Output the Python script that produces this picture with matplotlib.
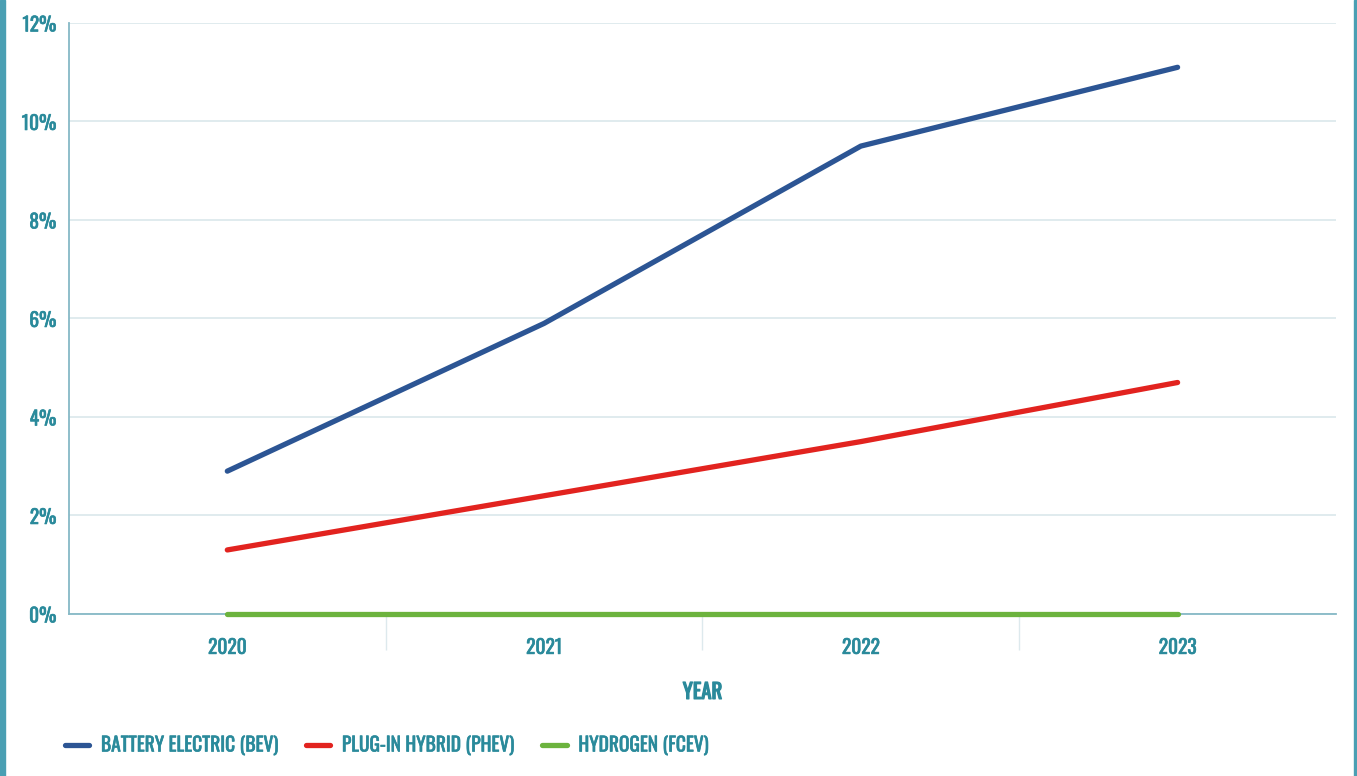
import matplotlib
matplotlib.use('Agg')
import matplotlib.pyplot as plt
import matplotlib.patheffects as pe
from matplotlib.patches import Rectangle
from matplotlib.ticker import FixedLocator, FuncFormatter

years = ['2020', '2021', '2022', '2023']
bev = [2.9, 5.9, 9.5, 11.1]
phev = [1.3, 2.4, 3.5, 4.7]
fcev = [0.0, 0.0, 0.0, 0.0]
series_names = ['BATTERY ELECTRIC (BEV)', 'PLUG-IN HYBRID (PHEV)', 'HYDROGEN (FCEV)']
y_ticks = [0, 2, 4, 6, 8, 10, 12]

TEAL = '#2a8a9b'
GRID = '#dde9ed'
SPINE = '#86b9c6'
COLORS = ['#2c5594', '#e2231f', '#6cb33e']

plt.rcParams['font.family'] = ['Oswald', 'Barlow Condensed', 'DejaVu Sans']

fig = plt.figure(figsize=(13.57, 7.76), dpi=100)
ax = fig.add_axes([0.0508, 0.2088, 0.9337, 0.7616])

x = list(range(len(years)))
for vals, name, color in zip([bev, phev, fcev], series_names, COLORS):
    ax.plot(x, vals, color=color, linewidth=3.8, label=name, clip_on=False,
            solid_capstyle='round', solid_joinstyle='round', zorder=3)

ax.set_xlim(-0.5, len(years) - 0.5)
ax.set_ylim(0, 12)
ax.set_xticks(x)
ax.set_xticklabels(years)
ax.xaxis.set_minor_locator(FixedLocator([i + 0.5 for i in range(len(years) - 1)]))
ax.set_yticks(y_ticks)
ax.yaxis.set_major_formatter(FuncFormatter(lambda v, _: f'{v:.0f}%'))

ax.grid(axis='y', color=GRID, linewidth=1.3, zorder=0)
for side in ['top', 'right']:
    ax.spines[side].set_visible(False)
for side in ['left', 'bottom']:
    ax.spines[side].set_color(SPINE)
    ax.spines[side].set_linewidth(1.3)

ax.tick_params(axis='x', which='major', length=0, pad=16.5, labelsize=14, labelcolor=TEAL)
ax.tick_params(axis='x', which='minor', length=26, width=1, color=GRID)
ax.tick_params(axis='y', length=0, pad=9, labelsize=14, labelcolor=TEAL)

xlabel = ax.set_xlabel('YEAR', fontsize=15, color=TEAL, labelpad=18)

leg = fig.legend(loc='center left', bbox_to_anchor=(0.035, 0.040), ncol=3, frameon=False,
                 fontsize=14, labelcolor=TEAL, handlelength=1.25, handletextpad=0.6,
                 columnspacing=1.4)

# the condensed face only ships in a light cut, so thicken the strokes a little
medium = [pe.withStroke(linewidth=0.45, foreground=TEAL)]
for t in ax.get_xticklabels() + ax.get_yticklabels() + leg.get_texts():
    t.set_path_effects(medium)
xlabel.set_path_effects([pe.withStroke(linewidth=0.9, foreground=TEAL)])

# teal frame strips down both sides
fig.patches.append(Rectangle((0, 0), 0.004, 1, transform=fig.transFigure,
                             color='#4a9fb3', zorder=0))
fig.patches.append(Rectangle((0.9975, 0), 0.0025, 1, transform=fig.transFigure,
                             color='#4a9fb3', zorder=0))

fig.savefig('out.png', dpi=100)
